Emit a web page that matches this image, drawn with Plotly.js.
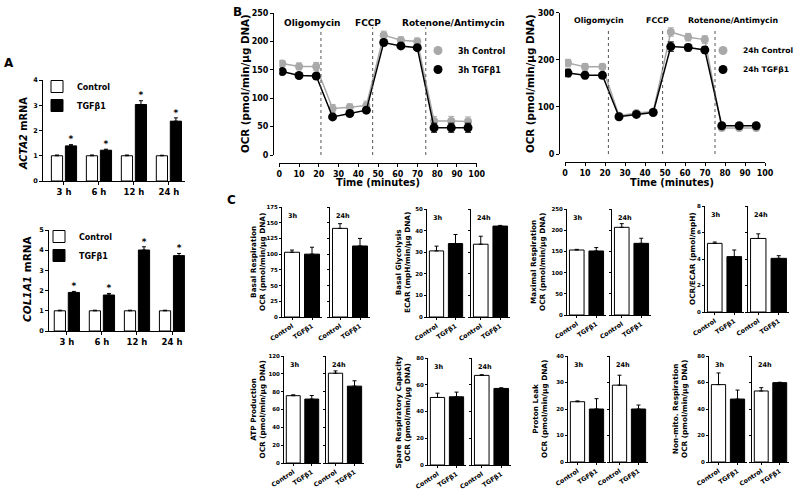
<!DOCTYPE html>
<html><head><meta charset="utf-8">
<script src="https://cdn.plot.ly/plotly-3.0.1.min.js"></script>
<style>
html,body{margin:0;padding:0;background:#fff;}
#chart{width:800px;height:495px;}
</style></head><body><div id="chart"></div>
<script>
// ---------- Panel A data ----------
const aCategories = ['3 h', '6 h', '12 h', '24 h'];
const acta2Control = [1.0, 1.0, 1.0, 1.0];
const acta2ControlErr = [0.03, 0.03, 0.03, 0.02];
const acta2Tgf = [1.39, 1.22, 3.03, 2.37];
const acta2TgfErr = [0.05, 0.04, 0.15, 0.13];
const col1a1Control = [1.0, 1.0, 1.0, 1.0];
const col1a1ControlErr = [0.03, 0.03, 0.03, 0.03];
const col1a1Tgf = [1.91, 1.78, 4.01, 3.73];
const col1a1TgfErr = [0.05, 0.08, 0.16, 0.11];

// ---------- Panel B data ----------
const times = [1.5, 10, 18.7, 27, 35.7, 44.1, 52.9, 61.6, 69.9, 78.4, 87.1, 95.6];
const ocr3hControl = [161, 156, 156, 82, 84, 87, 211, 202, 200, 60, 60, 59];
const ocr3hControlErr = [5, 6, 7, 7, 6, 8, 7, 6, 6, 8, 8, 8];
const ocr3hTgf = [147, 140, 139, 67, 73, 79, 198, 192, 189, 48, 48, 48];
const ocr3hTgfErr = [3, 3, 3, 3, 3, 3, 3, 3, 3, 8, 8, 8];
const ocr24hControl = [193, 185, 185, 81, 87, 90, 259, 248, 243, 55, 55, 55];
const ocr24hControlErr = [8, 7, 6, 3, 3, 3, 9, 8, 8, 3, 3, 3];
const ocr24hTgf = [172, 167, 167, 79, 84, 88, 228, 226, 221, 60, 60, 60];
const ocr24hTgfErr = [8, 7, 5, 3, 3, 3, 10, 7, 7, 3, 3, 3];
const injectionLabels = ['Oligomycin', 'FCCP', 'Rotenone/Antimycin'];
const injectionTimes3h = [21.1, 47.3, 74.2];
const injectionTimes24h = [21.7, 48.8, 75.0];
const injectionLabelTimes3h = [17, 45, 88];
const injectionLabelTimes24h = [17, 46, 84];

// ---------- Panel C data ----------
const cGroups = ['Control', 'TGFβ1'];
const cMetrics = ['Basal Respiration', 'Basal Glycolysis', 'Maximal Respiration', '',
                  'ATP Production', 'Spare Respiratory Capacity', 'Proton Leak', 'Non-mito. Respiration'];
const cUnits = ['OCR (pmol/min/μg DNA)', 'ECAR (mpH/min/μg DNA)', 'OCR (pmol/min/μg DNA)', 'OCR/ECAR (pmol/mpH)',
                'OCR (pmol/min/μg DNA)', 'OCR (pmol/min/μg DNA)', 'OCR (pmol/min/μg DNA)', 'OCR (pmol/min/μg DNA)'];
const cMax = [175, 50, 250, 8, 120, 80, 40, 80];
const cStep = [25, 10, 50, 2, 20, 20, 10, 20];
const cControl3h = [103, 30.6, 153.3, 5.18, 75.5, 50.5, 22.75, 58.4];
const cControl3hErr = [3.5, 2.2, 1.5, 0.1, 1, 3.2, 0.3, 8.8];
const cTgf3h = [100, 34, 151, 4.18, 71.7, 51, 20, 47.5];
const cTgf3hErr = [11, 4.2, 8, 0.5, 4, 3.5, 3.9, 6.8];
const cControl24h = [141, 33.7, 206.8, 5.55, 100.7, 67, 29, 53.6];
const cControl24hErr = [7.5, 3.7, 8.6, 0.35, 2.6, 0.5, 3.75, 2.5];
const cTgf24h = [113, 42.1, 169, 4.05, 86.2, 57.25, 20, 59.9];
const cTgf24hErr = [12, 0.3, 12, 0.2, 6, 0.5, 1.5, 0.3];
const cTimeLabels = ['3h', '24h'];

// ---------- helpers ----------
const FAM = 'DejaVu Sans, Verdana, sans-serif';
const fnt = (s, extra) => Object.assign({family: FAM, size: s, color: '#000', weight: 'bold'}, extra || {});
const W = 800, H = 495;
const px = v => v / W, py = v => 1 - v / H;
const GRAY = '#a9a9a9';
const baseAxis = extra => Object.assign({
  showgrid: false, zeroline: false, showline: true, linecolor: '#000', linewidth: 1,
  ticks: 'outside', ticklen: 3, tickwidth: 1, tickcolor: '#000', fixedrange: true
}, extra);
const paperNote = (x, y, text, font, angle) => ({xref: 'paper', yref: 'paper', x: px(x), y: py(y), text: text,
  xanchor: 'center', yanchor: 'middle', textangle: angle || 0, showarrow: false, font: font});

const traces = [], annotations = [], shapes = [];
const layout = {
  width: W, height: H, margin: {l: 0, r: 0, t: 0, b: 0, autoexpand: false},
  paper_bgcolor: '#fff', plot_bgcolor: 'rgba(0,0,0,0)',
  font: fnt(7), barmode: 'overlay', hovermode: false
};

// ---------- Panel A ----------
const aIdx = aCategories.map((_, i) => i);
function panelA(n, ctrl, ctrlErr, tgf, tgfErr, dom, yTop, yBot, yMax, legendName, legendPos) {
  const xa = n === 1 ? 'x' : 'x' + n, ya = n === 1 ? 'y' : 'y' + n;
  const xk = n === 1 ? 'xaxis' : 'xaxis' + n, yk = n === 1 ? 'yaxis' : 'yaxis' + n;
  layout[xk] = baseAxis({domain: [px(dom[0]), px(dom[1])], range: dom[2], tickvals: aIdx, ticktext: aCategories,
                         anchor: ya, tickfont: fnt(8.5)});
  layout[yk] = baseAxis({domain: [py(yBot), py(yTop)], range: [0, yMax], dtick: 1, anchor: xa, tickfont: fnt(6.5)});
  const zeros = ctrl.map(() => 0);
  traces.push({type: 'bar', x: aIdx, y: ctrl, offset: -0.36, width: 0.32, name: 'Control', legend: legendName,
    marker: {color: '#fff', line: {color: '#000', width: 1}}, xaxis: xa, yaxis: ya,
    error_y: {type: 'data', symmetric: false, array: ctrlErr, arrayminus: zeros, color: '#000', thickness: 1, width: 2}});
  traces.push({type: 'bar', x: aIdx, y: tgf, offset: 0.04, width: 0.32, name: 'TGFβ1', legend: legendName,
    marker: {color: '#000', line: {color: '#000', width: 1}}, xaxis: xa, yaxis: ya,
    error_y: {type: 'data', symmetric: false, array: tgfErr, arrayminus: zeros, color: '#000', thickness: 1, width: 2}});
  traces.push({type: 'scatter', mode: 'text', x: aIdx.map(i => i + 0.2), y: tgf.map((v, i) => v + tgfErr[i]),
    text: aIdx.map(() => '*'), textposition: 'top center', textfont: fnt(9), showlegend: false,
    cliponaxis: false, xaxis: xa, yaxis: ya});
  layout[legendName] = {x: px(legendPos[0]), y: py(legendPos[1]), xanchor: 'left', yanchor: 'top',
    font: fnt(8), bgcolor: 'rgba(0,0,0,0)', itemwidth: 30, tracegroupgap: 0};
}
panelA(1, acta2Control, acta2ControlErr, acta2Tgf, acta2TgfErr, [43, 185, [-0.6, 3.46]], 80, 181, 4, 'legend', [37, 72]);
panelA(2, col1a1Control, col1a1ControlErr, col1a1Tgf, col1a1TgfErr, [49, 185, [-0.51, 3.37]], 230, 331, 5, 'legend2', [39, 222]);
annotations.push(paperNote(24, 134, '<i>ACTA2</i> mRNA', fnt(9.8), -90));
annotations.push(paperNote(27, 279, '<i>COL1A1</i> mRNA', fnt(10.5), -90));

// ---------- Panel B ----------
function panelB(n, ctrl, ctrlErr, tgf, tgfErr, xDom, yDom, yMax, yStep, yAxisX, xAxisY, inj, injLabT, injTop, labelY,
                labelSize, names, legendName, legendPos, titleX) {
  const xa = 'x' + n, ya = 'y' + n;
  layout['xaxis' + n] = baseAxis({domain: [px(xDom[0]), px(xDom[1])], range: [0, 100], dtick: 10, anchor: 'free',
    position: py(xAxisY), tickfont: fnt(8)});
  layout['yaxis' + n] = baseAxis({domain: [py(yDom[1]), py(yDom[0])], range: [0, yMax], dtick: yStep, anchor: 'free',
    position: px(yAxisX), tickfont: fnt(8)});
  traces.push({type: 'scatter', mode: 'lines+markers', x: times, y: ctrl, xaxis: xa, yaxis: ya, showlegend: false,
    line: {color: GRAY, width: 1.5}, marker: {color: GRAY, size: 8},
    error_y: {type: 'data', array: ctrlErr, color: GRAY, thickness: 1, width: 3}});
  traces.push({type: 'scatter', mode: 'lines+markers', x: times, y: tgf, xaxis: xa, yaxis: ya, showlegend: false,
    line: {color: '#000', width: 1.5}, marker: {color: '#000', size: 9},
    error_y: {type: 'data', array: tgfErr, color: '#000', thickness: 1, width: 3}});
  traces.push({type: 'scatter', mode: 'markers', x: [null], y: [null], xaxis: xa, yaxis: ya, name: names[0],
    legend: legendName, marker: {color: GRAY, size: 9}});
  traces.push({type: 'scatter', mode: 'markers', x: [null], y: [null], xaxis: xa, yaxis: ya, name: names[1],
    legend: legendName, marker: {color: '#000', size: 9}});
  layout[legendName] = {x: px(legendPos[0]), y: py(legendPos[1]), xanchor: 'left', yanchor: 'top',
    font: fnt(legendPos[2]), bgcolor: 'rgba(0,0,0,0)', itemwidth: 30, tracegroupgap: 0};
  inj.forEach(t => shapes.push({type: 'line', xref: xa, yref: ya, x0: t, x1: t, y0: 0, y1: injTop,
    line: {color: '#555', width: 1, dash: 'dot'}}));
  injectionLabels.forEach((lab, i) => annotations.push({xref: xa, yref: ya, x: injLabT[i], y: labelY, text: lab,
    xanchor: 'center', yanchor: 'middle', showarrow: false, font: fnt(labelSize)}));
  annotations.push(paperNote(titleX[0], 84, 'OCR (pmol/min/μg DNA)', fnt(10.3), -90));
  annotations.push(paperNote(titleX[1], 183, 'Time (minutes)', fnt(9.8)));
}
panelB(3, ocr3hControl, ocr3hControlErr, ocr3hTgf, ocr3hTgfErr, [279.3, 476.7], [13, 155], 250, 50, 273, 163,
  injectionTimes3h, injectionLabelTimes3h, 225, 233, 9, ['3h Control', '3h TGFβ1'], 'legend3', [418, 36, 8], [245, 378]);
panelB(4, ocr24hControl, ocr24hControlErr, ocr24hTgf, ocr24hTgfErr, [565, 765], [12.7, 154], 300, 100, 559, 162,
  injectionTimes24h, injectionLabelTimes24h, 262, 284, 7.9, ['24h Control', '24h TGFβ1'], 'legend4', [703, 36, 7.6], [530, 672]);

// ---------- Panel C ----------
const cBoxes = [
  {a: [282, 322], b: [330, 370], top: 207, bot: 317, tx: 258},
  {a: [427, 465], b: [471, 510], top: 209, bot: 317, tx: 403},
  {a: [567, 606], b: [612, 651], top: 209, bot: 315, tx: 538},
  {a: [705, 744], b: [748, 789], top: 206, bot: 312, tx: 692},
  {a: [284, 321], b: [326, 364], top: 356, bot: 463, tx: 257},
  {a: [428, 466], b: [472, 511], top: 358, bot: 465, tx: 402},
  {a: [568, 606], b: [610, 648], top: 356, bot: 462, tx: 540},
  {a: [709, 747], b: [752, 789], top: 356, bot: 462, tx: 680}
];
cMetrics.forEach((metric, k) => {
  const box = cBoxes[k];
  const sets = [
    {dom: box.a, y: [cControl3h[k], cTgf3h[k]], e: [cControl3hErr[k], cTgf3hErr[k]], labels: true},
    {dom: box.b, y: [cControl24h[k], cTgf24h[k]], e: [cControl24hErr[k], cTgf24hErr[k]], labels: false}
  ];
  sets.forEach((s, j) => {
    const n = 5 + 2 * k + j, xa = 'x' + n, ya = 'y' + n;
    layout['xaxis' + n] = baseAxis({domain: [px(s.dom[0]), px(s.dom[1])], range: [-0.5, 1.5], tickvals: [0, 1],
      ticktext: cGroups, tickangle: -33, tickfont: fnt(6.3), anchor: ya, ticklen: 2});
    layout['yaxis' + n] = baseAxis({domain: [py(box.bot), py(box.top)], range: [0, cMax[k]], dtick: cStep[k],
      anchor: xa, tickfont: fnt(5.5), showticklabels: s.labels, ticklen: 2});
    traces.push({type: 'bar', x: [0, 1], y: s.y, width: 0.75, xaxis: xa, yaxis: ya, showlegend: false,
      marker: {color: ['#fff', '#000'], line: {color: '#000', width: 1}},
      error_y: {type: 'data', symmetric: false, array: s.e, arrayminus: [0, 0], color: '#000', thickness: 1, width: 2}});
    annotations.push({xref: xa + ' domain', yref: ya + ' domain', x: 0.1, y: 0.97, xanchor: 'left', yanchor: 'top',
      text: cTimeLabels[j], showarrow: false, font: fnt(6.5)});
  });
  const title = metric ? metric + '<br>' + cUnits[k] : cUnits[k];
  annotations.push(paperNote(box.tx, (box.top + box.bot) / 2, title, fnt(7.3), -90));
});

// ---------- panel letters ----------
[['A', 9, 63], ['B', 237, 12], ['C', 232, 200]].forEach(p => annotations.push(paperNote(p[1], p[2], p[0], fnt(12))));

layout.annotations = annotations;
layout.shapes = shapes;
Plotly.newPlot('chart', traces, layout, {displayModeBar: false, staticPlot: true});
</script></body></html>
